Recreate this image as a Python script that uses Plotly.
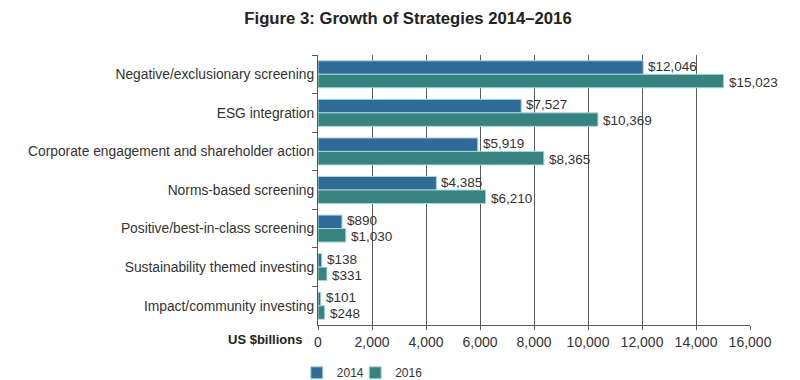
import plotly.graph_objects as go

categories = [
    "Negative/exclusionary screening",
    "ESG integration",
    "Corporate engagement and shareholder action",
    "Norms-based screening",
    "Positive/best-in-class screening",
    "Sustainability themed investing",
    "Impact/community investing",
]
values_2014 = [12046, 7527, 5919, 4385, 890, 138, 101]
values_2016 = [15023, 10369, 8365, 6210, 1030, 331, 248]
tick_vals = [0, 2000, 4000, 6000, 8000, 10000, 12000, 14000, 16000]
tick_text = ["0", "2,000", "4,000", "6,000", "8,000", "10,000", "12,000", "14,000", "16,000"]

FONT = "Liberation Sans, Arial, Helvetica, sans-serif"
TXT = "#333333"

fig = go.Figure()
series = [("2014", values_2014, "#2f6b98", 8, "legend"),
          ("2016", values_2016, "#378380", -8, "legend2")]
annotations = []
for name, vals, color, shift, leg in series:
    fig.add_trace(go.Bar(
        name=name, y=categories, x=vals, orientation="h", legend=leg,
        marker=dict(color=color, line=dict(color="#a8d8da", width=1)),
    ))
    for cat, v in zip(categories, vals):
        annotations.append(dict(
            x=v, y=cat, xref="x", yref="y", text="$" + format(v, ","),
            showarrow=False, xanchor="left", yanchor="middle",
            xshift=4, yshift=shift, borderpad=0,
            font=dict(family=FONT, size=13.5, color=TXT),
        ))

annotations.append(dict(text="<b>US $billions</b>", xref="paper", yref="paper",
                        x=-0.032, y=-0.055, xanchor="right", yanchor="middle",
                        showarrow=False, font=dict(family=FONT, size=13, color="#222222")))

legend_common = dict(orientation="h", xref="container", yref="container",
                     xanchor="left", y=0.04, yanchor="middle",
                     bgcolor="rgba(0,0,0,0)",
                     font=dict(family=FONT, size=12, color=TXT),
                     itemwidth=30)

fig.update_layout(
    width=800, height=380,
    margin=dict(l=310, r=58, t=47, b=63, autoexpand=False),
    paper_bgcolor="white", plot_bgcolor="white",
    barmode="group", bargap=0.3, bargroupgap=0,
    font=dict(family=FONT, size=13, color=TXT),
    title=dict(text="<b>Figure 3: Growth of Strategies 2014–2016</b>",
               x=0.5, xanchor="center", xref="container", yref="container",
               y=0.988, yanchor="top",
               font=dict(family=FONT, size=16.7, color="#222222")),
    showlegend=True,
    legend=dict(x=0.361, **legend_common),
    legend2=dict(x=0.434, **legend_common),
    annotations=annotations,
)
fig.update_xaxes(
    range=[0, 16000], tickvals=tick_vals, ticktext=tick_text,
    showgrid=True, gridcolor="#5a5a5a", gridwidth=1.2,
    showline=True, linecolor="#5a5a5a", linewidth=1.2,
    ticks="outside", ticklen=4, tickcolor="#5a5a5a",
    zeroline=False, tickfont=dict(size=14, color=TXT), automargin=False,
)
fig.update_yaxes(
    autorange="reversed", showline=True, linecolor="#5a5a5a", linewidth=1.2,
    ticks="outside", ticklen=5, tickcolor="#5a5a5a", tickson="boundaries",
    showgrid=False, tickfont=dict(size=13.8, color=TXT), automargin=False,
)

fig.write_html("out.html")
